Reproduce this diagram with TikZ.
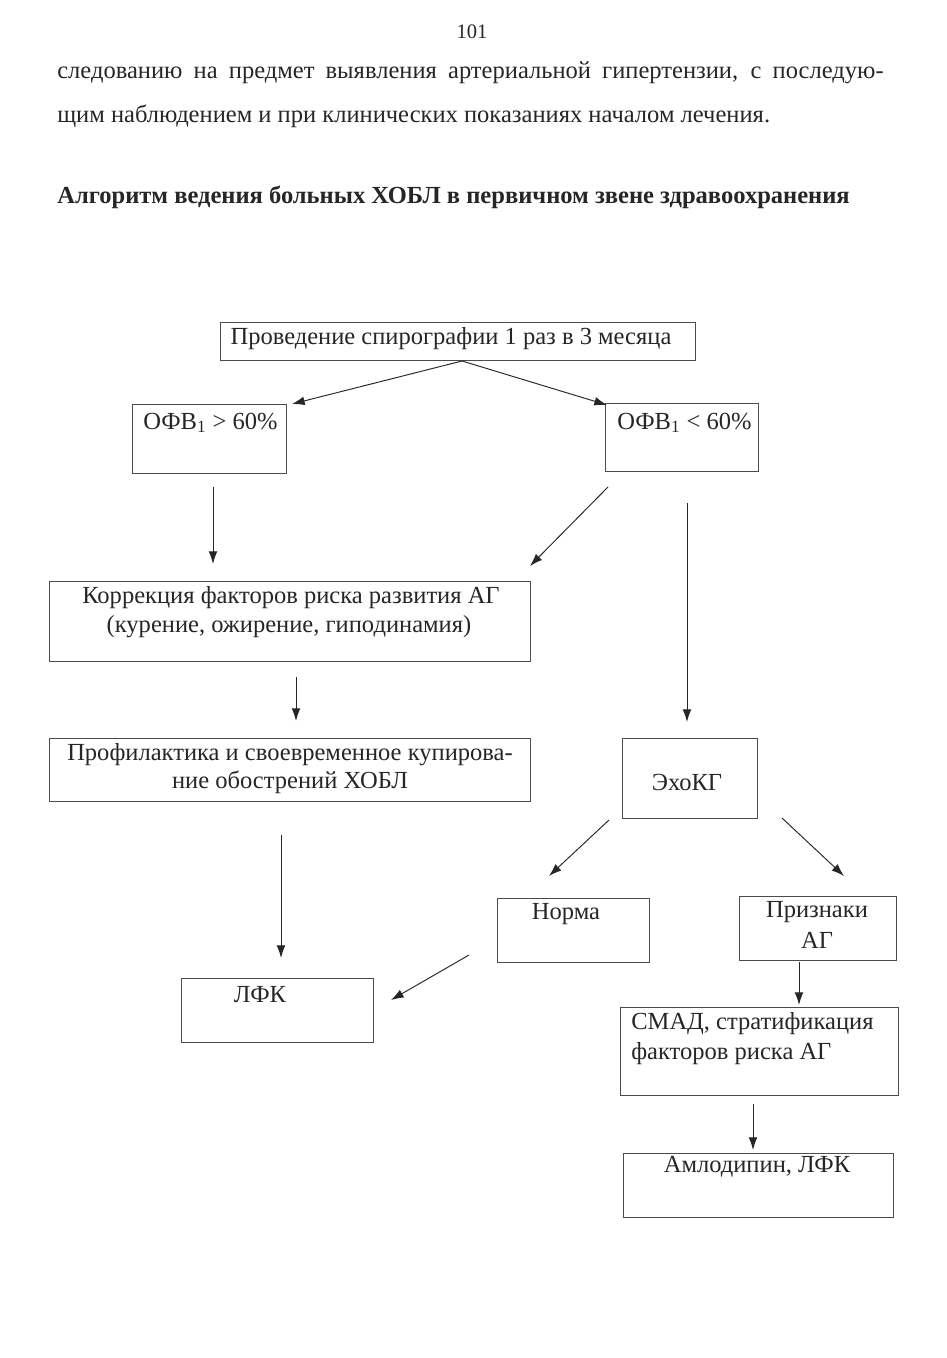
\documentclass[tikz,border=0pt]{standalone}
\usepackage{fontspec}
\setmainfont{Liberation Serif}
\usetikzlibrary{arrows.meta}
\tikzset{
  box/.style={draw=black!70, line width=0.6pt, inner sep=0pt, anchor=north west},
  conn/.style={draw=black!85, line width=0.6pt, -{Latex[length=8pt,width=5.5pt]}},
  txt/.style={inner sep=0pt, font=\fontsize{15.5}{18}\selectfont, text=black!85},
  body/.style={inner sep=0pt, anchor=west, font=\fontsize{15.5}{18}\selectfont, text=black!85},
}
\begin{document}
\begin{tikzpicture}[x=0.0222cm, y=-0.0222cm]
\useasboundingbox[fill=white] (0,0) rectangle (946,1358);
% page header and text
\node[txt, font=\fontsize{13}{15}\selectfont] (pnum) at (472,32) {101};
\node[body] (l1) at (57,73) {\makebox[522pt][s]{следованию на предмет выявления артериальной гипертензии, с последую-}};
\node[body] (l2) at (57,116) {щим наблюдением и при клинических показаниях началом лечения.};
\node[body, font=\fontsize{15.5}{18}\selectfont\bfseries] (title) at (57,197) {Алгоритм ведения больных ХОБЛ в первичном звене здравоохранения};
% boxes
\node[box, minimum width={475*0.0222cm}, minimum height={38*0.0222cm}] (top) at (220,322) {};
\node[box, minimum width={154*0.0222cm}, minimum height={69*0.0222cm}] (hi) at (132,404) {};
\node[box, minimum width={153*0.0222cm}, minimum height={68*0.0222cm}] (lo) at (605,403) {};
\node[box, minimum width={481*0.0222cm}, minimum height={80*0.0222cm}] (korr) at (49,581) {};
\node[box, minimum width={481*0.0222cm}, minimum height={63*0.0222cm}] (prof) at (49,738) {};
\node[box, minimum width={135*0.0222cm}, minimum height={80*0.0222cm}] (echo) at (622,738) {};
\node[box, minimum width={152*0.0222cm}, minimum height={64*0.0222cm}] (norm) at (497,898) {};
\node[box, minimum width={157*0.0222cm}, minimum height={64*0.0222cm}] (sign) at (739,896) {};
\node[box, minimum width={192*0.0222cm}, minimum height={64*0.0222cm}] (lfk) at (181,978) {};
\node[box, minimum width={278*0.0222cm}, minimum height={88*0.0222cm}] (smad) at (620,1007) {};
\node[box, minimum width={270*0.0222cm}, minimum height={64*0.0222cm}] (aml) at (623,1153) {};
% texts
\node[txt] (ttop) at (451,339) {Проведение спирографии 1 раз в 3 месяца};
\node[txt, anchor=west] (thi) at (143,423) {ОФВ\textsubscript{1} > 60\%};
\node[txt, anchor=west] (tlo) at (617,423) {ОФВ\textsubscript{1} < 60\%};
\node[txt] (tkorr1) at (291,598) {Коррекция факторов риска развития АГ};
\node[txt] (tkorr2) at (289,627) {(курение, ожирение, гиподинамия)};
\node[txt] (tprof1) at (290,755) {Профилактика и своевременное купирова-};
\node[txt] (tprof2) at (290,782) {ние обострений ХОБЛ};
\node[txt] (techo) at (687,782) {ЭхоКГ};
\node[txt] (tnorm) at (566,914) {Норма};
\node[txt] (tsign1) at (817,912) {Признаки};
\node[txt] (tsign2) at (817,940) {АГ};
\node[txt] (tlfk) at (260,995) {ЛФК};
\node[txt, anchor=west] (tsmad1) at (631,1024) {СМАД, стратификация};
\node[txt, anchor=west] (tsmad2) at (631,1054) {факторов риска АГ};
\node[txt] (taml) at (757,1167) {Амлодипин, ЛФК};
% connector end points
\coordinate (a0) at (462,361);
\coordinate (a1) at (292,404);
\coordinate (a2) at (607,405);
\coordinate (b1s) at (213,487);
\coordinate (b1e) at (213,564);
\coordinate (b2s) at (608,487);
\coordinate (b2e) at (530,566);
\coordinate (b3s) at (687,503);
\coordinate (b3e) at (687,722);
\coordinate (c1s) at (296,677);
\coordinate (c1e) at (296,721);
\coordinate (c2s) at (281,835);
\coordinate (c2e) at (281,958);
\coordinate (d1s) at (609,820);
\coordinate (d1e) at (549,876);
\coordinate (d2s) at (782,818);
\coordinate (d2e) at (844,876);
\coordinate (e1s) at (469,955);
\coordinate (e1e) at (391,1000);
\coordinate (e2s) at (799,962);
\coordinate (e2e) at (799,1005);
\coordinate (f1s) at (753,1104);
\coordinate (f1e) at (753,1150);
% connectors
\draw[conn] (a0) -- (a1);
\draw[conn] (a0) -- (a2);
\draw[conn] (b1s) -- (b1e);
\draw[conn] (b2s) -- (b2e);
\draw[conn] (b3s) -- (b3e);
\draw[conn] (c1s) -- (c1e);
\draw[conn] (c2s) -- (c2e);
\draw[conn] (d1s) -- (d1e);
\draw[conn] (d2s) -- (d2e);
\draw[conn] (e1s) -- (e1e);
\draw[conn] (e2s) -- (e2e);
\draw[conn] (f1s) -- (f1e);
\end{tikzpicture}
\end{document}
